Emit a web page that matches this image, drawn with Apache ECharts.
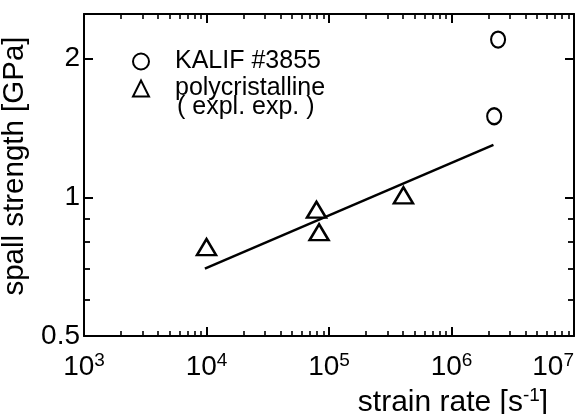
<!DOCTYPE html>
<html>
<head>
<meta charset="utf-8">
<script src="https://cdn.jsdelivr.net/npm/echarts@6/dist/echarts.min.js"></script>
<style>html,body{margin:0;padding:0;background:#fff}#c{width:585px;height:414px}</style>
</head>
<body>
<div id="c"></div>
<script>
// ---- data ----
const kalifRate = [2.23e6, 2.40e6];
const kalifStrength = [1.50, 2.20];
const polyRate = [1.0e4, 7.9e4, 8.3e4, 4.05e5];
const polyStrength = [0.78, 0.94, 0.84, 1.01];
const fitRate = [9.7e3, 2.2e6];
const fitStrength = [0.70, 1.30];
// ---- axis ticks ----
const xMin = 1e3, xMax = 1e7;
const yMin = 0.5, yMax = 2.5;
const yTickLabels = [0.5, 1, 2];
const xDecades = [1e3, 1e4, 1e5, 1e6];
const xMinorMultipliers = [2, 3, 4, 5, 6, 7, 8, 9];
const yMinorTicks = [0.6, 0.7, 0.8, 0.9];
const seriesNames = ['KALIF #3855', 'polycristalline'];
const noteText = '( expl. exp. )';

const FONT = '"Liberation Sans", Arial, Helvetica, sans-serif';
const xMinorLog = [];
xDecades.forEach(d => xMinorMultipliers.forEach(m => xMinorLog.push(Math.log10(d * m))));
const yMinorLog = yMinorTicks.map(v => Math.log10(v));

function zip(a, b) { return a.map((v, i) => [v, b[i]]); }

const black = '#000';
const majorX = (pos, labels) => ({
  type: 'log', logBase: 10, min: xMin, max: xMax, splitNumber: 4, position: pos,
  axisLine: { show: true, onZero: false, lineStyle: { color: black, width: 2 } },
  axisTick: { show: true, inside: true, length: 9, lineStyle: { color: black, width: 2 } },
  axisLabel: labels ? {
    show: true, margin: 15, color: black, alignMaxLabel: 'right',
    formatter: v => '{b|10}{s|' + Math.round(Math.log10(v)) + '}',
    rich: {
      b: { fontSize: 28, fontFamily: FONT, color: black },
      s: { fontSize: 19, fontFamily: FONT, color: black, padding: [0, 0, 14, 0] }
    }
  } : { show: false },
  splitLine: { show: false }
});
const minorX = pos => ({
  type: 'value', min: 3, max: 7, position: pos,
  axisLine: { show: false, onZero: false },
  axisTick: { show: true, inside: true, length: 5, customValues: xMinorLog, lineStyle: { color: black, width: 1.6 } },
  axisLabel: { show: false }, splitLine: { show: false }
});
const majorY = (pos, labels) => ({
  type: 'log', logBase: 2, min: yMin, max: yMax, splitNumber: 2, position: pos,
  axisLine: { show: true, onZero: false, lineStyle: { color: black, width: 2 } },
  axisTick: { show: true, inside: true, length: 9, lineStyle: { color: black, width: 2 } },
  axisLabel: labels ? {
    show: true, margin: 4, color: black, fontSize: 28, fontFamily: FONT,
    formatter: v => {
      const r = Math.round(v * 10) / 10;
      return yTickLabels.indexOf(r) >= 0 ? String(r) : '';
    }
  } : { show: false },
  splitLine: { show: false }
});
const minorY = pos => ({
  type: 'value', min: Math.log10(yMin), max: Math.log10(yMax), position: pos,
  axisLine: { show: false, onZero: false },
  axisTick: { show: true, inside: true, length: 6, customValues: yMinorLog, lineStyle: { color: black, width: 1.8 } },
  axisLabel: { show: false }, splitLine: { show: false }
});

const xa0 = majorX('bottom', true);
xa0.name = 'strain rate [s{sup|-1}]';
xa0.nameLocation = 'middle';
xa0.nameGap = 45;
xa0.nameTextStyle = {
  fontSize: 30, fontFamily: FONT, color: black, padding: [0, 0, 0, 248],
  rich: { sup: { fontSize: 19, fontFamily: FONT, color: black, padding: [0, 0, 14, 0] } }
};
const ya0 = majorY('left', true);
ya0.name = 'spall strength [GPa]';
ya0.nameLocation = 'middle';
ya0.nameGap = 32;
ya0.nameTextStyle = { fontSize: 29.5, fontFamily: FONT, color: black, padding: [0, 0, 0, 18] };

const option = {
  backgroundColor: '#fff',
  animation: false,
  grid: { left: 84, right: 11, top: 14, bottom: 78, containLabel: false, outerBoundsMode: 'none' },
  xAxis: [xa0, minorX('bottom'), majorX('top', false), minorX('top')],
  yAxis: [ya0, minorY('left'), majorY('right', false), minorY('right')],
  legend: {
    orient: 'vertical', left: 127, top: 44, itemWidth: 16, itemHeight: 16, itemGap: 2,
    data: seriesNames,
    textStyle: { fontSize: 25, fontFamily: FONT, color: black, lineHeight: 25, padding: [0, 0, 0, 21] }
  },
  graphic: [{
    type: 'text', left: 177, top: 95,
    style: { text: noteText, fontSize: 25, fontFamily: FONT, fill: black }
  }],
  series: [
    {
      type: 'line', xAxisIndex: 0, yAxisIndex: 0, data: zip(fitRate, fitStrength),
      showSymbol: false, symbol: 'none', lineStyle: { color: black, width: 2.5 }, z: 2
    },
    {
      name: seriesNames[0], type: 'scatter', xAxisIndex: 0, yAxisIndex: 0,
      data: zip(kalifRate, kalifStrength), symbol: 'circle', symbolSize: [14, 16],
      itemStyle: { color: '#fff', borderColor: black, borderWidth: 2.2, opacity: 1 }, z: 3
    },
    {
      name: seriesNames[1], type: 'scatter', xAxisIndex: 0, yAxisIndex: 0,
      data: zip(polyRate, polyStrength), symbol: 'triangle', symbolSize: [19, 16],
      itemStyle: { color: '#fff', borderColor: black, borderWidth: 2.5, opacity: 1 }, z: 3
    }
  ]
};
const chart = echarts.init(document.getElementById('c'), null, { renderer: 'canvas' });
chart.setOption(option);
</script>
</body>
</html>
